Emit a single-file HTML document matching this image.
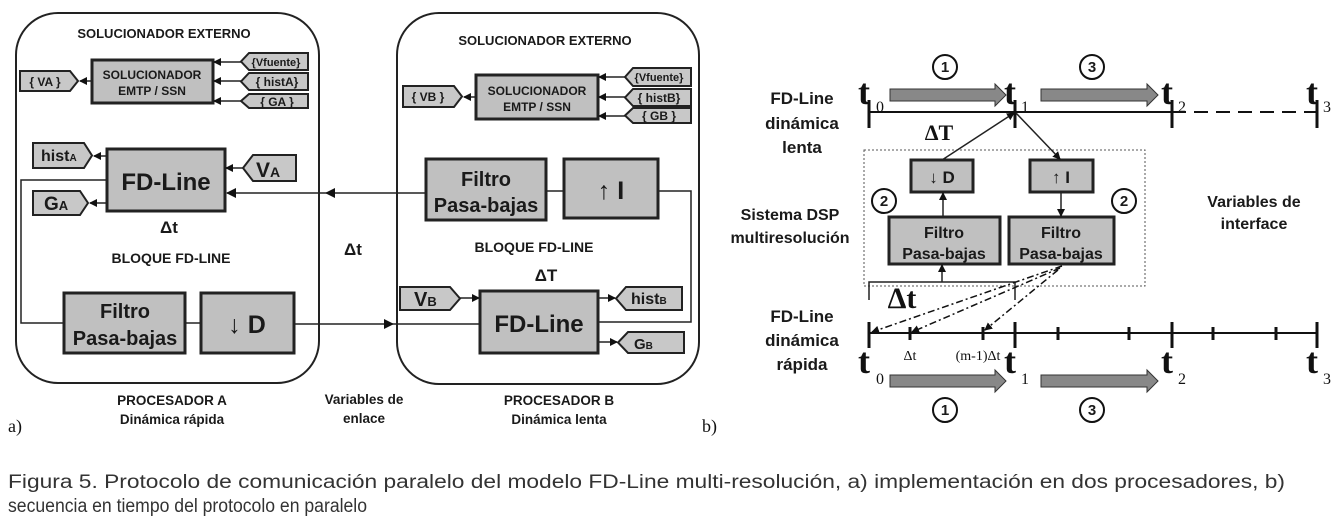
<!DOCTYPE html>
<html><head><meta charset="utf-8"><style>
html,body{margin:0;padding:0;background:#fff;}
svg{display:block;}
.s{font-family:"Liberation Sans",sans-serif;font-weight:bold;fill:#1a1a1a;}
.r{font-family:"Liberation Serif",serif;fill:#111;}
.box{fill:#c0c0c0;stroke:#222;stroke-width:3;}
.tag{fill:#c8c8c8;stroke:#222;stroke-width:2;}
.ln{stroke:#222;stroke-width:1.5;fill:none;}
</style></head><body>
<svg width="1341" height="526" viewBox="0 0 1341 526" xmlns="http://www.w3.org/2000/svg">
<defs>
<marker id="a" markerWidth="8" markerHeight="8" refX="7" refY="4" orient="auto" markerUnits="userSpaceOnUse"><path d="M0,0 L8,4 L0,8 z" fill="#111"/></marker>
<marker id="b" markerWidth="10" markerHeight="10" refX="9" refY="5" orient="auto" markerUnits="userSpaceOnUse"><path d="M0,0 L10,5 L0,10 z" fill="#111"/></marker>
</defs>

<rect x="16" y="13" width="303" height="370" rx="42" fill="none" stroke="#222" stroke-width="2"/>
<rect x="397" y="13" width="302" height="371" rx="42" fill="none" stroke="#222" stroke-width="2"/>

<text class="s" x="164" y="38" font-size="13" text-anchor="middle">SOLUCIONADOR EXTERNO</text>
<rect class="box" x="92" y="60" width="121" height="43"/>
<text class="s" x="152" y="79" font-size="12" text-anchor="middle">SOLUCIONADOR</text>
<text class="s" x="152" y="95" font-size="12" text-anchor="middle">EMTP / SSN</text>
<polygon class="tag" points="20,71 70,71 78,81 70,91 20,91"/>
<text class="s" x="45" y="86" font-size="12" text-anchor="middle">{ VA }</text>
<line class="ln" x1="92" y1="81" x2="80" y2="81" marker-end="url(#a)" stroke-width="2"/>
<polygon class="tag" points="249,53 308,53 308,70 249,70 241,61.5"/>
<text class="s" x="276" y="66" font-size="11" text-anchor="middle">{Vfuente}</text>
<polygon class="tag" points="249,73 308,73 308,90 249,90 241,81.5"/>
<text class="s" x="277" y="86" font-size="12" text-anchor="middle">{ histA}</text>
<polygon class="tag" points="249,94 308,94 308,108 249,108 241,101"/>
<text class="s" x="277" y="106" font-size="12" text-anchor="middle">{ GA }</text>
<line class="ln" x1="241" y1="62" x2="214" y2="62" marker-end="url(#a)" stroke-width="2"/>
<line class="ln" x1="241" y1="81" x2="214" y2="81" marker-end="url(#a)" stroke-width="2"/>
<line class="ln" x1="241" y1="101" x2="214" y2="101" marker-end="url(#a)" stroke-width="2"/>

<rect class="box" x="107" y="149" width="118" height="62"/>
<text class="s" x="166" y="190" font-size="24" text-anchor="middle">FD-Line</text>
<polygon class="tag" points="33,143 84,143 92,155.5 84,168 33,168"/>
<text class="s" x="41" y="161" font-size="16">hist<tspan font-size="10">A</tspan></text>
<line class="ln" x1="107" y1="156" x2="94" y2="156" marker-end="url(#a)" stroke-width="2"/>
<polygon class="tag" points="33,191 80,191 88,203 80,215 33,215"/>
<text class="s" x="44" y="210" font-size="19">G<tspan font-size="13">A</tspan></text>
<line class="ln" x1="107" y1="203" x2="90" y2="203" marker-end="url(#a)" stroke-width="2"/>
<polygon class="tag" points="253,155 296,155 296,181 253,181 243,168"/>
<text class="s" x="256" y="177" font-size="21">V<tspan font-size="14">A</tspan></text>
<line class="ln" x1="243" y1="168" x2="226" y2="168" marker-end="url(#a)" stroke-width="2"/>
<text class="s" x="169" y="233" font-size="17" text-anchor="middle">Δt</text>
<text class="s" x="171" y="263" font-size="14" text-anchor="middle">BLOQUE FD-LINE</text>

<polyline class="ln" points="107,180 21,180 21,323 64,323"/>
<rect class="box" x="64" y="293" width="121" height="60"/>
<text class="s" x="125" y="318" font-size="20" text-anchor="middle">Filtro</text>
<text class="s" x="125" y="345" font-size="20" text-anchor="middle">Pasa-bajas</text>
<line class="ln" x1="185" y1="323" x2="201" y2="323"/>
<rect class="box" x="201" y="293" width="93" height="60"/>
<text class="s" x="247" y="333" font-size="25" text-anchor="middle">↓ D</text>
<line class="ln" x1="294" y1="324" x2="393" y2="324" marker-end="url(#b)"/>
<line class="ln" x1="393" y1="324" x2="480" y2="324"/>
<text class="s" x="353" y="255" font-size="17" text-anchor="middle">Δt</text>

<text class="s" x="545" y="45" font-size="13" text-anchor="middle">SOLUCIONADOR EXTERNO</text>
<rect class="box" x="476" y="75" width="122" height="44"/>
<text class="s" x="537" y="95" font-size="12" text-anchor="middle">SOLUCIONADOR</text>
<text class="s" x="537" y="111" font-size="12" text-anchor="middle">EMTP / SSN</text>
<polygon class="tag" points="403,86 454,86 462,96.5 454,107 403,107"/>
<text class="s" x="428" y="101" font-size="12" text-anchor="middle">{ VB }</text>
<line class="ln" x1="476" y1="97" x2="464" y2="97" marker-end="url(#a)" stroke-width="2"/>
<polygon class="tag" points="633,68 691,68 691,86 633,86 625,77"/>
<text class="s" x="659" y="81" font-size="11" text-anchor="middle">{Vfuente}</text>
<polygon class="tag" points="633,89 691,89 691,106 633,106 625,97.5"/>
<text class="s" x="659" y="102" font-size="12" text-anchor="middle">{ histB}</text>
<polygon class="tag" points="633,108 691,108 691,123 633,123 625,115.5"/>
<text class="s" x="659" y="120" font-size="12" text-anchor="middle">{ GB }</text>
<line class="ln" x1="625" y1="77" x2="599" y2="77" marker-end="url(#a)" stroke-width="2"/>
<line class="ln" x1="625" y1="97" x2="599" y2="97" marker-end="url(#a)" stroke-width="2"/>
<line class="ln" x1="625" y1="116" x2="599" y2="116" marker-end="url(#a)" stroke-width="2"/>

<rect class="box" x="426" y="159" width="120" height="61"/>
<text class="s" x="486" y="186" font-size="20" text-anchor="middle">Filtro</text>
<text class="s" x="486" y="212" font-size="20" text-anchor="middle">Pasa-bajas</text>
<line class="ln" x1="546" y1="191" x2="564" y2="191"/>
<rect class="box" x="564" y="159" width="94" height="59"/>
<text class="s" x="611" y="199" font-size="25" text-anchor="middle">↑ I</text>
<line class="ln" x1="426" y1="193" x2="326" y2="193" marker-end="url(#b)"/>
<line class="ln" x1="326" y1="193" x2="227" y2="193" marker-end="url(#b)"/>
<polyline class="ln" points="658,191 691,191 691,322 598,322"/>
<text class="s" x="534" y="252" font-size="14" text-anchor="middle">BLOQUE FD-LINE</text>
<text class="s" x="546" y="281" font-size="17" text-anchor="middle">ΔT</text>

<polygon class="tag" points="400,287 450,287 460,298.5 450,310 400,310"/>
<text class="s" x="414" y="306" font-size="20">V<tspan font-size="13">B</tspan></text>
<line class="ln" x1="460" y1="298" x2="479" y2="298" marker-end="url(#a)" stroke-width="2"/>
<rect class="box" x="480" y="291" width="118" height="62"/>
<text class="s" x="539" y="332" font-size="24" text-anchor="middle">FD-Line</text>
<polygon class="tag" points="626,287 682,287 682,310 626,310 616,298.5"/>
<text class="s" x="631" y="304" font-size="16">hist<tspan font-size="10">B</tspan></text>
<line class="ln" x1="598" y1="298" x2="615" y2="298" marker-end="url(#a)" stroke-width="2"/>
<polygon class="tag" points="628,332 684,332 684,353 628,353 618,342.5"/>
<text class="s" x="634" y="349" font-size="15">G<tspan font-size="10">B</tspan></text>
<line class="ln" x1="598" y1="342" x2="617" y2="342" marker-end="url(#a)" stroke-width="2"/>

<text class="s" x="172" y="405" font-size="13.5" text-anchor="middle">PROCESADOR A</text>
<text class="s" x="172" y="424" font-size="13.5" text-anchor="middle">Dinámica rápida</text>
<text class="s" x="364" y="404" font-size="13.5" text-anchor="middle">Variables de</text>
<text class="s" x="364" y="423" font-size="13.5" text-anchor="middle">enlace</text>
<text class="s" x="559" y="405" font-size="13.5" text-anchor="middle">PROCESADOR B</text>
<text class="s" x="559" y="424" font-size="13.5" text-anchor="middle">Dinámica lenta</text>
<text class="r" x="8" y="432" font-size="18" fill="#333">a)</text>
<text class="r" x="702" y="432" font-size="18" fill="#333">b)</text>

<text class="s" x="802" y="104" font-size="17" text-anchor="middle">FD-Line</text>
<text class="s" x="802" y="129" font-size="17" text-anchor="middle">dinámica</text>
<text class="s" x="802" y="153" font-size="17" text-anchor="middle">lenta</text>
<line x1="869" y1="112" x2="1172" y2="112" stroke="#111" stroke-width="2"/>
<line x1="1172" y1="112" x2="1317" y2="112" stroke="#111" stroke-width="2" stroke-dasharray="14,8"/>
<g stroke="#111" stroke-width="3">
<line x1="869" y1="100" x2="869" y2="128"/><line x1="1015" y1="100" x2="1015" y2="128"/>
<line x1="1172" y1="100" x2="1172" y2="128"/><line x1="1317" y1="100" x2="1317" y2="128"/>
</g>
<g class="r" font-weight="bold">
<text x="858" y="104" font-size="36">t</text><text x="876" y="112" font-size="16" font-weight="normal">0</text>
<text x="1004" y="104" font-size="36">t</text><text x="1021" y="112" font-size="16" font-weight="normal">1</text>
<text x="1161" y="104" font-size="36">t</text><text x="1178" y="112" font-size="16" font-weight="normal">2</text>
<text x="1306" y="104" font-size="36">t</text><text x="1323" y="112" font-size="16" font-weight="normal">3</text>
</g>
<g fill="#888" stroke="#333" stroke-width="1">
<polygon points="890,89 995,89 995,84 1006,95 995,106 995,101 890,101"/>
<polygon points="1041,89 1147,89 1147,84 1158,95 1147,106 1147,101 1041,101"/>
<polygon points="890,375 995,375 995,370 1006,381 995,392 995,387 890,387"/>
<polygon points="1041,375 1147,375 1147,370 1158,381 1147,392 1147,387 1041,387"/>
</g>
<g fill="#fff" stroke="#111" stroke-width="2">
<circle cx="945" cy="67" r="12"/><circle cx="1092" cy="67" r="12"/>
<circle cx="884" cy="201" r="12"/><circle cx="1124" cy="201" r="12"/>
<circle cx="945" cy="410" r="12"/><circle cx="1092" cy="410" r="12"/>
</g>
<g class="s" font-size="15" text-anchor="middle">
<text x="945" y="72">1</text><text x="1092" y="72">3</text>
<text x="884" y="206">2</text><text x="1124" y="206">2</text>
<text x="945" y="415">1</text><text x="1092" y="415">3</text>
</g>
<text class="r" x="939" y="140" font-size="22" font-weight="bold" text-anchor="middle">ΔT</text>

<rect x="864" y="150" width="281" height="136" fill="none" stroke="#555" stroke-width="1" stroke-dasharray="2,2"/>
<rect class="box" x="911" y="160" width="62" height="32" stroke-width="2.5"/>
<text class="s" x="942" y="183" font-size="17" text-anchor="middle">↓ D</text>
<rect class="box" x="1030" y="160" width="63" height="32" stroke-width="2.5"/>
<text class="s" x="1061" y="183" font-size="17" text-anchor="middle">↑ I</text>
<rect class="box" x="889" y="217" width="111" height="47" stroke-width="2.5"/>
<text class="s" x="944" y="238" font-size="16" text-anchor="middle">Filtro</text>
<text class="s" x="944" y="259" font-size="16" text-anchor="middle">Pasa-bajas</text>
<rect class="box" x="1009" y="217" width="105" height="47" stroke-width="2.5"/>
<text class="s" x="1061" y="238" font-size="16" text-anchor="middle">Filtro</text>
<text class="s" x="1061" y="259" font-size="16" text-anchor="middle">Pasa-bajas</text>
<line class="ln" x1="942" y1="160" x2="1014" y2="113" marker-end="url(#a)"/>
<line class="ln" x1="1016" y1="113" x2="1060" y2="159" marker-end="url(#a)"/>
<line class="ln" x1="1061" y1="192" x2="1061" y2="216" marker-end="url(#a)"/>
<line class="ln" x1="943" y1="217" x2="943" y2="193" marker-end="url(#a)"/>
<polyline class="ln" points="869,300 869,282 1015,282 1015,300"/>
<line class="ln" x1="942" y1="282" x2="942" y2="265" marker-end="url(#a)" stroke-width="2"/>
<text class="r" x="902" y="308" font-size="30" font-weight="bold" text-anchor="middle">Δt</text>
<g stroke="#111" stroke-width="1.5" fill="none" stroke-dasharray="7,3,2,3">
<line x1="1062" y1="266" x2="872" y2="332" marker-end="url(#a)"/>
<line x1="1060" y1="268" x2="912" y2="332" marker-end="url(#a)"/>
<line x1="1058" y1="270" x2="985" y2="330" marker-end="url(#a)"/>
</g>
<text class="s" x="790" y="220" font-size="16" text-anchor="middle">Sistema DSP</text>
<text class="s" x="790" y="243" font-size="16" text-anchor="middle">multiresolución</text>
<text class="s" x="1254" y="207" font-size="16" text-anchor="middle">Variables de</text>
<text class="s" x="1254" y="229" font-size="16" text-anchor="middle">interface</text>

<text class="s" x="802" y="322" font-size="17" text-anchor="middle">FD-Line</text>
<text class="s" x="802" y="346" font-size="17" text-anchor="middle">dinámica</text>
<text class="s" x="802" y="370" font-size="17" text-anchor="middle">rápida</text>
<line x1="869" y1="333" x2="1317" y2="333" stroke="#111" stroke-width="2"/>
<g stroke="#111" stroke-width="3">
<line x1="869" y1="322" x2="869" y2="348"/><line x1="1015" y1="322" x2="1015" y2="348"/>
<line x1="1172" y1="322" x2="1172" y2="348"/><line x1="1317" y1="322" x2="1317" y2="348"/>
<line x1="910" y1="327" x2="910" y2="340"/><line x1="983" y1="327" x2="983" y2="340"/>
<line x1="1058" y1="327" x2="1058" y2="340"/><line x1="1129" y1="327" x2="1129" y2="340"/>
<line x1="1213" y1="327" x2="1213" y2="340"/><line x1="1276" y1="327" x2="1276" y2="340"/>
</g>
<text class="r" x="910" y="360" font-size="14" text-anchor="middle">Δt</text>
<text class="r" x="978" y="360" font-size="14" text-anchor="middle">(m-1)Δt</text>
<g class="r" font-weight="bold">
<text x="858" y="373" font-size="36">t</text><text x="876" y="384" font-size="16" font-weight="normal">0</text>
<text x="1004" y="373" font-size="36">t</text><text x="1021" y="384" font-size="16" font-weight="normal">1</text>
<text x="1161" y="373" font-size="36">t</text><text x="1178" y="384" font-size="16" font-weight="normal">2</text>
<text x="1306" y="373" font-size="36">t</text><text x="1323" y="384" font-size="16" font-weight="normal">3</text>
</g>

<text x="8" y="488" font-family="'Liberation Sans',sans-serif" font-size="19" fill="#333" textLength="1277" lengthAdjust="spacingAndGlyphs">Figura 5.  Protocolo de comunicación paralelo del modelo FD-Line multi-resolución, a) implementación en dos procesadores, b)</text>
<text x="8" y="512" font-family="'Liberation Sans',sans-serif" font-size="19" fill="#333" textLength="359" lengthAdjust="spacingAndGlyphs">secuencia en tiempo del protocolo en paralelo</text>
</svg>
</body></html>
